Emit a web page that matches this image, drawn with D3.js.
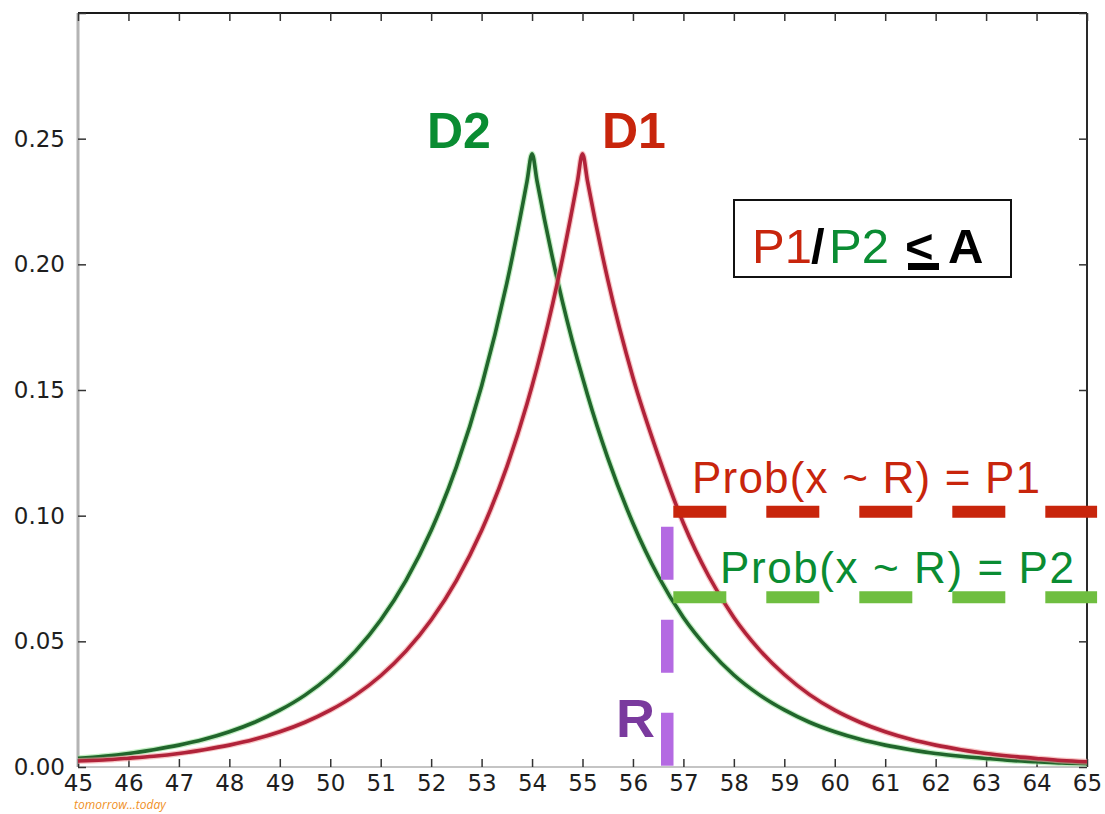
<!DOCTYPE html>
<html>
<head>
<meta charset="utf-8">
<script src="https://cdn.jsdelivr.net/npm/d3@7"></script>
<style>
  body { margin: 0; background: #fff; }
  svg { display: block; }
</style>
</head>
<body>
<div id="chart"></div>
<script>
// values
const xValues = [45, 45.5, 46, 46.5, 47, 47.5, 48, 48.5, 49, 49.5, 50, 50.5, 51, 51.5, 52, 52.5, 53, 53.5,
                 53.9, 54, 54.1, 54.5, 54.9, 55, 55.1, 55.5, 56, 56.5, 57, 57.5, 58, 58.5, 59, 59.5,
                 60, 60.5, 61, 61.5, 62, 62.5, 63, 63.5, 64, 64.5, 65];
const d2Values = [0.0035, 0.0043, 0.0054, 0.0069, 0.0087, 0.0110, 0.0140, 0.0178, 0.0226, 0.0286, 0.0363, 0.0461, 0.0585, 0.0742, 0.0941, 0.1194, 0.1516, 0.1925,
                  0.2330, 0.2440, 0.2330, 0.1940, 0.1620, 0.1550, 0.1480, 0.1230, 0.0970, 0.0760, 0.0595, 0.0468, 0.0366, 0.0288, 0.0227, 0.0178,
                  0.0140, 0.0110, 0.0087, 0.0069, 0.0054, 0.0043, 0.0034, 0.0026, 0.0021, 0.0016, 0.0013];
const d1Values = [0.0024, 0.0028, 0.0035, 0.0043, 0.0054, 0.0069, 0.0087, 0.0110, 0.0140, 0.0178, 0.0226, 0.0286, 0.0363, 0.0461, 0.0585, 0.0742, 0.0941, 0.1194,
                  0.1445, 0.1516, 0.1590, 0.1925, 0.2330, 0.2440, 0.2330, 0.1940, 0.1550, 0.1240, 0.0970, 0.0760, 0.0595, 0.0468, 0.0368, 0.0288,
                  0.0226, 0.0178, 0.0140, 0.0110, 0.0087, 0.0069, 0.0054, 0.0043, 0.0034, 0.0026, 0.0021];
const xTickValues = [45, 46, 47, 48, 49, 50, 51, 52, 53, 54, 55, 56, 57, 58, 59, 60, 61, 62, 63, 64, 65];
const yTickValues = [0, 0.05, 0.10, 0.15, 0.20, 0.25, 0.30];
const yTickLabels = ["0.00", "0.05", "0.10", "0.15", "0.20", "0.25", ""];

// annotation levels
const p1Level = 0.1016;
const p2Level = 0.0675;
const rValue = 56.68;
const rTop = 0.0956;
const dashStart = 56.8;
const dashEnd = 65.2;

const W = 1105, H = 814;
const margin = {top: 13, right: 18, bottom: 47, left: 78};

const svg = d3.select("#chart").append("svg")
    .attr("width", W)
    .attr("height", H);

const x = d3.scaleLinear().domain([45, 65]).range([margin.left, W - margin.right]);
const y = d3.scaleLinear().domain([0, 0.30]).range([H - margin.bottom, margin.top]);

const red = "#c8250c", green = "#0a8c32";

// frame
const x0 = x(45), x1 = x(65), y0 = y(0), y1 = y(0.30);
svg.append("line").attr("x1", x0).attr("x2", x1).attr("y1", y1).attr("y2", y1)
   .attr("stroke", "#1a1a1a").attr("stroke-width", 2);
svg.append("line").attr("x1", x1).attr("x2", x1).attr("y1", y1).attr("y2", y0)
   .attr("stroke", "#2a2a2a").attr("stroke-width", 2);
svg.append("line").attr("x1", x0).attr("x2", x0).attr("y1", y1).attr("y2", y0)
   .attr("stroke", "#b4b4b4").attr("stroke-width", 3);
svg.append("line").attr("x1", x0).attr("x2", x1).attr("y1", y0).attr("y2", y0)
   .attr("stroke", "#c4c4c4").attr("stroke-width", 2);

// axes with inward ticks
const tickFont = "'DejaVu Sans', sans-serif";
const axisBottomG = svg.append("g").attr("transform", `translate(0,${y0})`)
   .call(d3.axisBottom(x).tickValues(xTickValues).tickSize(-8).tickPadding(8).tickFormat(d3.format("d")));
const axisTopG = svg.append("g").attr("transform", `translate(0,${y1})`)
   .call(d3.axisTop(x).tickValues(xTickValues).tickSize(-8).tickFormat(""));
const axisLeftG = svg.append("g").attr("transform", `translate(${x0},0)`)
   .call(d3.axisLeft(y).tickValues(yTickValues).tickSize(-8).tickPadding(13)
         .tickFormat((d, i) => yTickLabels[i]));
const axisRightG = svg.append("g").attr("transform", `translate(${x1},0)`)
   .call(d3.axisRight(y).tickValues(yTickValues).tickSize(-8).tickFormat(""));

[axisBottomG, axisTopG, axisLeftG, axisRightG].forEach(g => {
  g.select(".domain").remove();
  g.selectAll(".tick line").attr("stroke", "#333").attr("stroke-width", 1.5);
  g.selectAll(".tick text").attr("fill", "#1e1e1e")
   .style("font-family", tickFont).style("font-size", "23px");
});

// curves
const line = d3.line().x((d, i) => x(xValues[i])).y(d => y(d)).curve(d3.curveMonotoneX);
const series = [
  {values: d2Values, halo: "#9be39b", core: "#21662c"},
  {values: d1Values, halo: "#f4a0a0", core: "#b1233a"}
];
series.forEach(s => {
  svg.append("path").datum(s.values).attr("d", line)
     .attr("fill", "none").attr("stroke", s.halo).attr("stroke-width", 6).attr("stroke-opacity", 0.6);
  svg.append("path").datum(s.values).attr("d", line)
     .attr("fill", "none").attr("stroke", s.core).attr("stroke-width", 3.6);
});

// dashed guide lines
svg.append("line").attr("x1", x(dashStart)).attr("x2", x(dashEnd))
   .attr("y1", y(p1Level)).attr("y2", y(p1Level))
   .attr("stroke", "#c8250c").attr("stroke-width", 12).attr("stroke-dasharray", "53 40");
svg.append("line").attr("x1", x(dashStart)).attr("x2", x(dashEnd))
   .attr("y1", y(p2Level)).attr("y2", y(p2Level))
   .attr("stroke", "#6fbe40").attr("stroke-width", 12).attr("stroke-dasharray", "53 40");
svg.append("line").attr("x1", x(rValue)).attr("x2", x(rValue))
   .attr("y1", y(rTop)).attr("y2", y(0))
   .attr("stroke", "#b46ae2").attr("stroke-width", 12.5).attr("stroke-dasharray", "53 40");

// labels
const sans = "'Liberation Sans', Arial, sans-serif";
svg.append("text").attr("x", 427).attr("y", 148).text("D2")
   .attr("fill", green).style("font-family", sans).style("font-weight", "bold").style("font-size", "50px");
svg.append("text").attr("x", 602).attr("y", 148).text("D1")
   .attr("fill", red).style("font-family", sans).style("font-weight", "bold").style("font-size", "50px");

svg.append("text").attr("x", 692).attr("y", 493).text("Prob(x ~ R) = P1")
   .attr("textLength", 348).attr("lengthAdjust", "spacing")
   .attr("fill", red).style("font-family", sans).style("font-size", "44px");
svg.append("text").attr("x", 720).attr("y", 583).text("Prob(x ~ R) = P2")
   .attr("textLength", 354).attr("lengthAdjust", "spacing")
   .attr("fill", green).style("font-family", sans).style("font-size", "44px");

svg.append("text").attr("x", 616).attr("y", 737).text("R")
   .attr("fill", "#7a3a9e").style("font-family", sans).style("font-weight", "bold").style("font-size", "54px");

// ratio box
svg.append("rect").attr("x", 734).attr("y", 200).attr("width", 277).attr("height", 77)
   .attr("fill", "#fff").attr("stroke", "#111").attr("stroke-width", 2);
const boxParts = [
  {t: "P1", x: 752, fill: red, bold: false},
  {t: "/", x: 811, fill: "#000", bold: true},
  {t: "P2", x: 829, fill: green, bold: false},
  {t: "<", x: 905, fill: "#000", bold: true},
  {t: "A", x: 948, fill: "#000", bold: true}
];
boxParts.forEach(p => {
  svg.append("text").attr("x", p.x).attr("y", 263).text(p.t)
     .attr("fill", p.fill).style("font-family", sans)
     .style("font-weight", p.bold ? "bold" : "normal").style("font-size", "49px");
});
svg.append("rect").attr("x", 908).attr("y", 263).attr("width", 31).attr("height", 7).attr("fill", "#000");

// watermark
svg.append("text").attr("x", 74).attr("y", 809).text("tomorrow...today")
   .attr("fill", "#f0901e").style("font-family", "'Open Sans', sans-serif")
   .style("font-style", "italic").style("font-size", "12px");
</script>
</body>
</html>
